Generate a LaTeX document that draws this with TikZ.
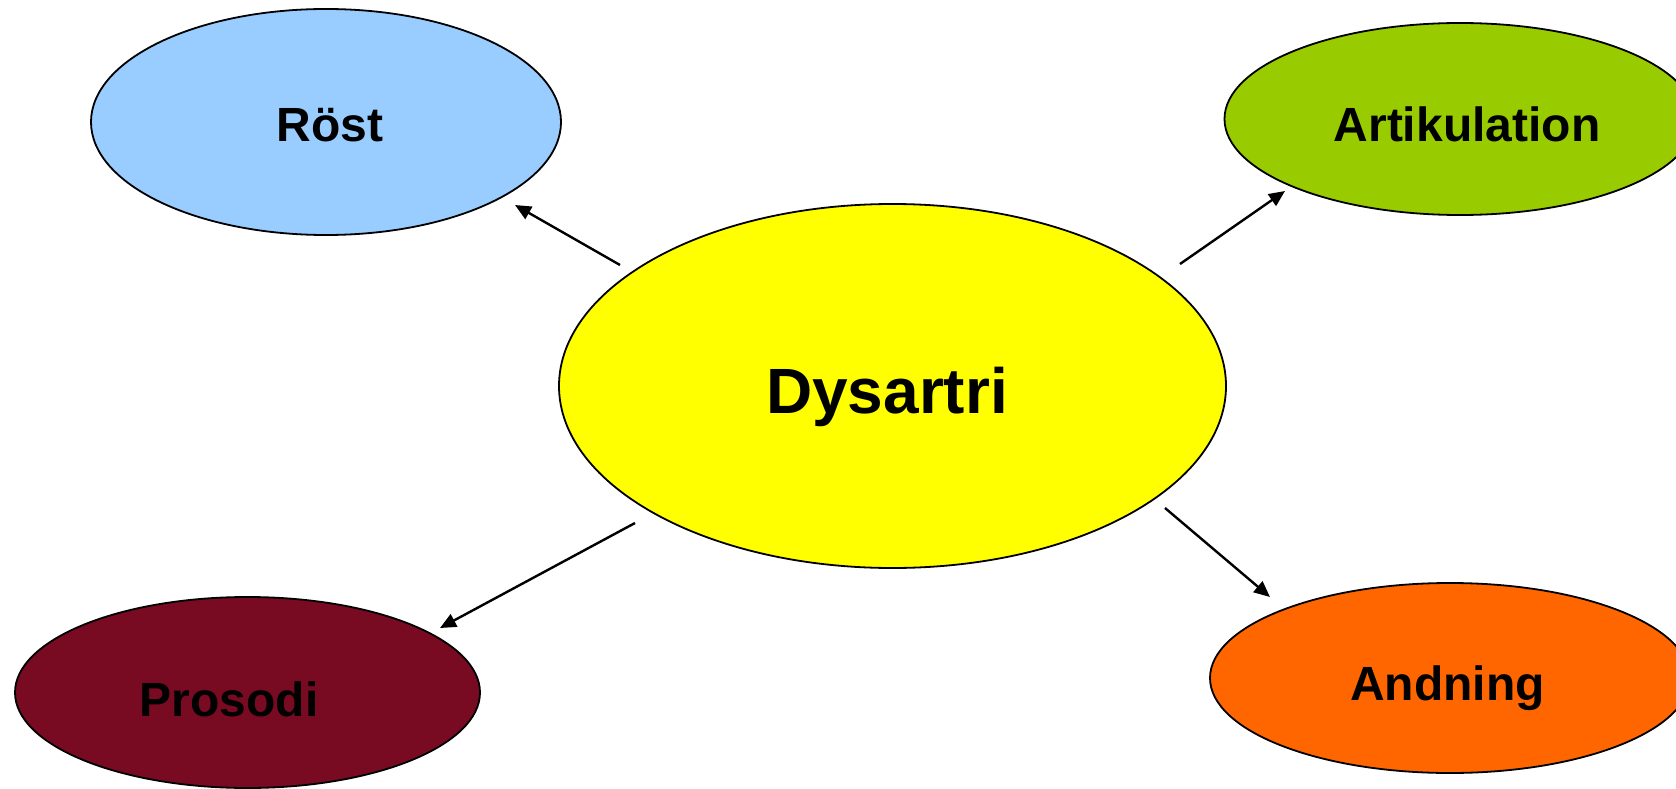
\documentclass[tikz,border=0pt]{standalone}
\usepackage{fontspec}
\setmainfont{Liberation Sans}
\usetikzlibrary{shapes.geometric,arrows.meta}

\definecolor{roestblue}{HTML}{99CCFF}
\definecolor{artgreen}{HTML}{99CC00}
\definecolor{andorange}{HTML}{FF6600}
\definecolor{prosred}{HTML}{780A22}
\definecolor{dysyellow}{HTML}{FFFF00}

\tikzset{
  bubble/.style={ellipse, draw=black, line width=1.8pt, inner sep=0pt, outer sep=0pt},
  lbl/.style={anchor=base, inner sep=0pt, font=\bfseries\fontsize{48}{58}\selectfont},
  biglbl/.style={anchor=base, inner sep=0pt, font=\bfseries\fontsize{64}{76}\selectfont},
  link/.style={line width=2.4pt, -{Triangle[length=16pt,width=14pt]}}
}

\begin{document}
\begin{tikzpicture}[x=1pt,y=-1pt]
  \useasboundingbox (0,0) rectangle (1676,789);

  % outer topics
  \node[bubble, fill=roestblue, minimum width=470pt, minimum height=226pt] (roest) at (326,122) {};
  \node[bubble, fill=artgreen, minimum width=471pt, minimum height=192pt] (artik) at (1460,119) {};
  \node[bubble, fill=andorange, minimum width=480pt, minimum height=190pt] (andn) at (1450,678) {};
  \node[bubble, fill=prosred, minimum width=465pt, minimum height=191pt] (pros) at (247.5,692.5) {};

  % central topic
  \node[bubble, fill=dysyellow, minimum width=667pt, minimum height=364pt] (dys) at (892.5,386) {};

  % labels
  \node[lbl] (roesttxt) at (330,142) {Röst};
  \node[lbl] (artiktxt) at (1467,142) {Artikulation};
  \node[lbl] (andntxt) at (1447.5,700) {Andning};
  \node[lbl] (prostxt) at (229,716) {Prosodi};
  \node[biglbl] (dystxt) at (887,413) {Dysartri};

  % arrow end points in the gaps between the bubbles
  \coordinate (dys-nw) at (620,265);
  \coordinate (roest-in) at (515,205);
  \coordinate (dys-ne) at (1180,264);
  \coordinate (artik-in) at (1285,191);
  \coordinate (dys-sw) at (635,523);
  \coordinate (pros-in) at (440,628);
  \coordinate (dys-se) at (1165,508);
  \coordinate (andn-in) at (1270,597);

  \draw[link] (dys-nw) -- (roest-in);
  \draw[link] (dys-ne) -- (artik-in);
  \draw[link] (dys-sw) -- (pros-in);
  \draw[link] (dys-se) -- (andn-in);
\end{tikzpicture}
\end{document}
